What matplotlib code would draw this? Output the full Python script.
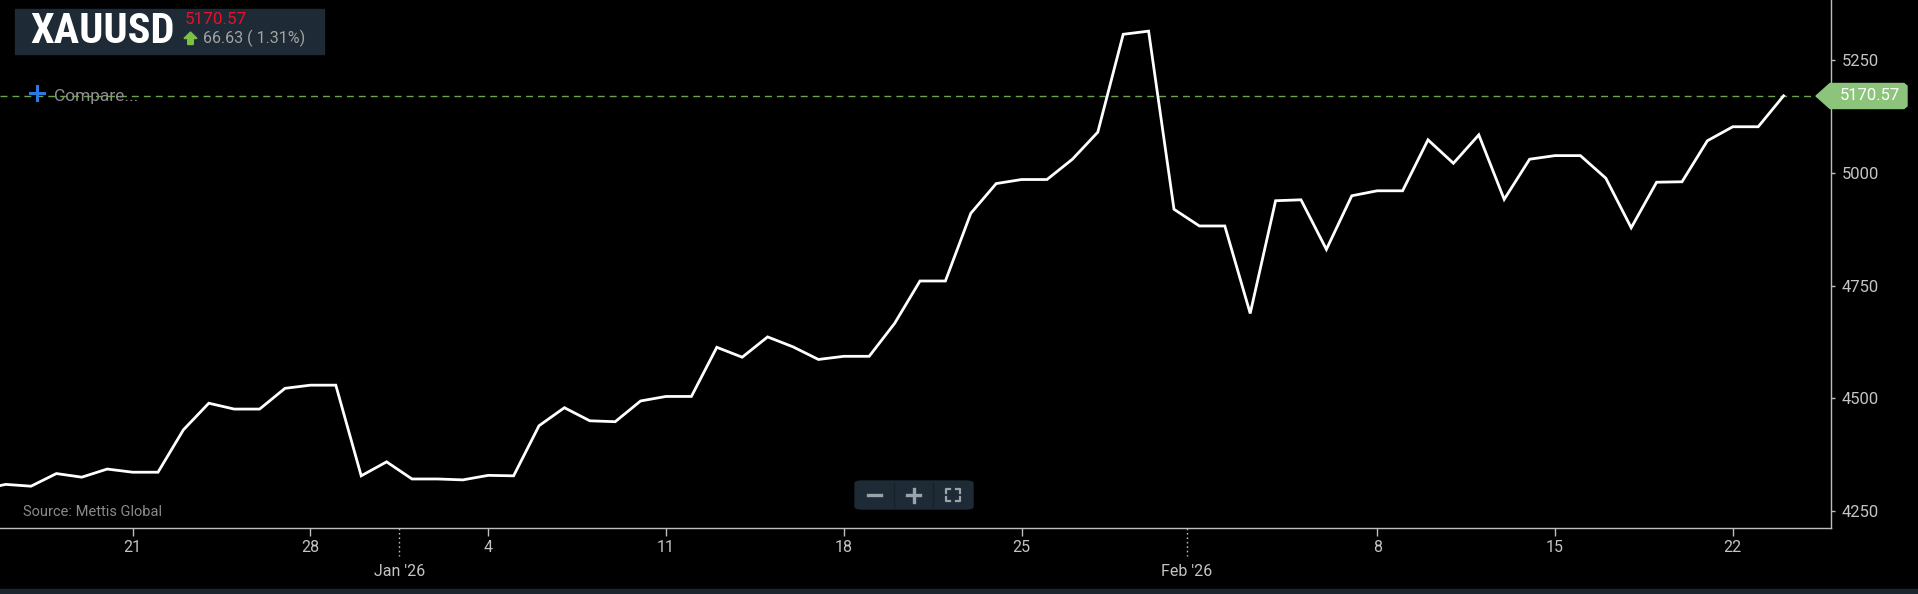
import matplotlib
matplotlib.use("Agg")
import matplotlib.pyplot as plt
import matplotlib.dates as mdates
from matplotlib import font_manager as fm
from matplotlib.patches import Rectangle, Polygon, FancyBboxPatch
from matplotlib.lines import Line2D
import pandas as pd
import numpy as np

# ---------------- data ----------------
start_date = "2025-12-15"
end_date = "2026-02-24"
dec_values = [4297, 4309, 4305, 4333, 4325, 4343, 4336, 4336, 4430, 4489, 4476,
              4476, 4522, 4529, 4529, 4328, 4359]
jan_values = [4321, 4321, 4319, 4329, 4328, 4439, 4479, 4450, 4448, 4494, 4504,
              4504, 4613, 4591, 4636, 4614, 4586, 4593, 4593, 4666, 4760, 4760,
              4910, 4976, 4985, 4985, 5030, 5090, 5307, 5314, 4919]
feb_values = [4882, 4882, 4688, 4938, 4940, 4830, 4949, 4960, 4960, 5073, 5021,
              5084, 4941, 5030, 5038, 5038, 4988, 4878, 4979, 4980, 5071, 5102,
              5102, 5170.57]
symbol = "XAUUSD"
change_text = "66.63 ( 1.31%)"
source_text = "Source: Mettis Global"
y_ticks = [4250, 4500, 4750, 5000, 5250]
week_ticks = [d for d in pd.date_range("2025-12-21", "2026-02-22", freq="7D") if d.day != 1]
month_starts = ["2026-01-01", "2026-02-01"]
month_labels = ["Jan '26", "Feb '26"]

dates = pd.date_range(start_date, end_date, freq="D")
values = dec_values + jan_values + feb_values
last = values[-1]

# ---------------- fonts ----------------
names = {f.name for f in fm.fontManager.ttflist}
base_font = "Roboto" if "Roboto" in names else "DejaVu Sans"
title_font, title_size = base_font, 26.3
for cand in ["Roboto Condensed", "Liberation Sans Narrow", "DejaVu Sans Condensed",
             "Open Sans Condensed"]:
    if cand in names:
        title_font, title_size = cand, 30.5
        break
plt.rcParams["font.family"] = [base_font, "DejaVu Sans"]

W, H = 1918, 594
fig = plt.figure(figsize=(W / 100, H / 100), dpi=100, facecolor="black")

def fx(x):
    return x / W

def fy(y):
    return 1 - y / H

ax_right = 1830.7
ax_bottom = 528.3
ax = fig.add_axes([0, fy(ax_bottom), fx(ax_right), ax_bottom / H])
ax.set_facecolor("black")

# y mapping: 5250 at y=60px, 4250 at y=511px
ppu = (511 - 60) / 1000.0
y_top = 4250 + 511 / ppu
y_bot = 4250 - (ax_bottom - 511) / ppu
ax.set_ylim(y_bot, y_top)

d21 = mdates.date2num(pd.Timestamp("2025-12-21"))
ppd = 25.40
ax.set_xlim(d21 - 132.6 / ppd, d21 + (ax_right - 132.6) / ppd)

# dashed last-price line
ax.axhline(last, color="#6da34d", lw=1.0, dashes=(5, 3.6), zorder=1)
# main series
ax.plot(dates, values, color="white", lw=2.0, solid_joinstyle="miter", zorder=3)

# spines
for s in ["top", "left"]:
    ax.spines[s].set_visible(False)
for s in ["right", "bottom"]:
    ax.spines[s].set_color("#bdbdbd")
    ax.spines[s].set_linewidth(1.0)

ax.yaxis.tick_right()
ax.set_yticks(y_ticks)
ax.set_yticklabels([str(v) for v in y_ticks])
ax.tick_params(axis="y", direction="out", length=3, width=1, color="#bdbdbd",
               labelcolor="#c4c4c4", labelsize=12, pad=5)

ax.set_xticks(week_ticks)
ax.set_xticklabels([str(d.day) for d in week_ticks])
ax.tick_params(axis="x", direction="out", length=5.5, width=1, color="#bdbdbd",
               labelcolor="#c4c4c4", labelsize=11.5, pad=3)

# month separators
trans = ax.get_xaxis_transform()
for m, lab in zip(month_starts, month_labels):
    xm = mdates.date2num(pd.Timestamp(m)) - 0.5
    ax.plot([xm, xm], [0, -(556 - ax_bottom) / ax_bottom], transform=trans,
            color="#bdbdbd", lw=1, ls=(0, (1.2, 2)), clip_on=False)
    ax.text(xm, -(571.7 - ax_bottom) / ax_bottom, lab, transform=trans,
            ha="center", va="center", color="#c4c4c4", fontsize=11.5)

# source text
fig.text(fx(22.7), fy(516), source_text, color="#8a8a8a", fontsize=10.5,
         ha="left", va="baseline")

# ---------------- header box ----------------
fig.patches.append(Rectangle((fx(15), fy(54)), fx(324) - fx(15), (54 - 9) / H,
                             transform=fig.transFigure, color="#1e2a35", zorder=5))
fig.text(fx(30), fy(43), symbol, color="white", fontsize=title_size, fontweight="bold",
         family=[title_font, "DejaVu Sans"], ha="left", va="baseline", zorder=6)
fig.text(fx(185), fy(24), f"{last:.2f}", color="#e8112d", fontsize=12.3,
         ha="left", va="baseline", zorder=6)
arrow_px = [(190.5, 32), (197, 38.5), (193.3, 38.5), (193.3, 44.5), (187.7, 44.5),
            (187.7, 38.5), (184, 38.5)]
fig.patches.append(Polygon([(fx(a), fy(b)) for a, b in arrow_px], closed=True,
                           transform=fig.transFigure, color="#7cc242", zorder=6))
fig.text(fx(203), fy(43), change_text, color="#a3a3a3", fontsize=11.6,
         ha="left", va="baseline", zorder=6)

# compare
fig.add_artist(Line2D([fx(30), fx(44)], [fy(92.5), fy(92.5)], color="#2a7ae2", lw=2.2,
                      transform=fig.transFigure, zorder=6))
fig.add_artist(Line2D([fx(37), fx(37)], [fy(85.5), fy(99.5)], color="#2a7ae2", lw=2.2,
                      transform=fig.transFigure, zorder=6))
fig.text(fx(54), fy(101.5), "Compare...", color="#8f8f8f", fontsize=12.5,
         ha="left", va="baseline", zorder=6)

# last price tag
ty = 96
tag_px = [(1816, ty), (1830, ty - 12.5), (1904, ty - 12.5), (1907, ty - 10), (1907, ty + 10),
          (1904, ty + 12.5), (1830, ty + 12.5)]
fig.patches.append(Polygon([(fx(a), fy(b)) for a, b in tag_px], closed=True,
                           transform=fig.transFigure, color="#8bc47a", zorder=6))
fig.text(fx(1840), fy(ty), f"{last:.2f}", color="white", fontsize=12,
         ha="left", va="center", zorder=7)

# zoom control
fig.patches.append(FancyBboxPatch((fx(855), fy(509)), fx(973) - fx(855), (509 - 481) / H,
                                  boxstyle="round,pad=0,rounding_size=0.004",
                                  transform=fig.transFigure, color="#1e2a35", zorder=5))
for sx in [894, 933]:
    fig.add_artist(Line2D([fx(sx), fx(sx)], [fy(483), fy(507)], color="#152029", lw=1,
                          transform=fig.transFigure, zorder=6))
icon_c = "#9aa3ab"
fig.add_artist(Line2D([fx(868), fx(881)], [fy(495), fy(495)], color=icon_c, lw=2.4,
                      transform=fig.transFigure, zorder=6))
fig.add_artist(Line2D([fx(907), fx(920)], [fy(495), fy(495)], color=icon_c, lw=2.4,
                      transform=fig.transFigure, zorder=6))
fig.add_artist(Line2D([fx(913.5), fx(913.5)], [fy(488.5), fy(501.5)], color=icon_c, lw=2.4,
                      transform=fig.transFigure, zorder=6))
x0, x1, y0, y1, k = 946, 960, 489, 501, 4
for (cx, cy, dx, dy) in [(x0, y0, 1, 1), (x1, y0, -1, 1), (x0, y1, 1, -1), (x1, y1, -1, -1)]:
    fig.add_artist(Line2D([fx(cx + dx * k), fx(cx), fx(cx)], [fy(cy), fy(cy), fy(cy + dy * k)],
                          color=icon_c, lw=1.6, transform=fig.transFigure, zorder=6))

# bottom band
fig.patches.append(Rectangle((0, 0), 1, (594 - 589) / H, transform=fig.transFigure,
                             color="#1b2530", zorder=5))

fig.savefig("out.png", dpi=100, facecolor="black")
